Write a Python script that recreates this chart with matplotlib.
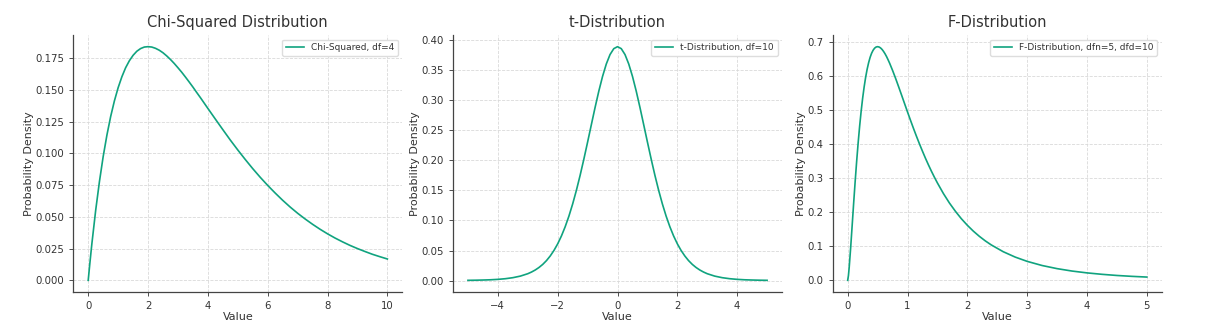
import matplotlib
matplotlib.use("Agg")
import matplotlib.pyplot as plt

# values
chi_x = [0, 0.05, 0.1, 0.125, 0.25, 0.375, 0.5, 0.625, 0.75, 0.875, 1.0, 1.125, 1.25, 1.375,
         1.5, 1.625, 1.75, 1.875, 2.0, 2.125, 2.25, 2.375, 2.5, 2.625, 2.75, 2.875, 3.0,
         3.125, 3.25, 3.375, 3.5, 3.625, 3.75, 4.0, 4.25, 4.5, 4.75, 5.0, 5.25, 5.5, 5.75,
         6.0, 6.25, 6.5, 6.75, 7.0, 7.25, 7.5, 7.75, 8.0, 8.25, 8.5, 8.75, 9.0, 9.25, 9.5,
         9.75, 10.0]
chi_y = [0.0, 0.0122, 0.0238, 0.0294, 0.0552, 0.0777, 0.0974, 0.1143, 0.1289, 0.1412, 0.1516,
         0.1602, 0.1673, 0.1728, 0.1771, 0.1803, 0.1824, 0.1836, 0.1839, 0.1836, 0.1826,
         0.1811, 0.1791, 0.1766, 0.1738, 0.1707, 0.1673, 0.1638, 0.1600, 0.1561, 0.1521,
         0.1479, 0.1438, 0.1353, 0.1269, 0.1186, 0.1104, 0.1026, 0.0951, 0.0879, 0.0811,
         0.0747, 0.0687, 0.0630, 0.0577, 0.0528, 0.0483, 0.0441, 0.0402, 0.0366, 0.0333,
         0.0303, 0.0275, 0.0250, 0.0227, 0.0205, 0.0186, 0.0168]

# t curve is symmetric, read the right half
t_pos_x = [0, 0.125, 0.25, 0.375, 0.5, 0.625, 0.75, 0.875, 1.0, 1.125, 1.25, 1.375, 1.5,
           1.625, 1.75, 1.875, 2.0, 2.125, 2.25, 2.375, 2.5, 2.625, 2.75, 2.875, 3.0, 3.25,
           3.5, 3.75, 4.0, 4.25, 4.5, 4.75, 5.0]
t_pos_y = [0.3891, 0.3858, 0.3760, 0.3603, 0.3397, 0.3152, 0.2880, 0.2593, 0.2304, 0.2021,
           0.1751, 0.1501, 0.1274, 0.1072, 0.0895, 0.0742, 0.0611, 0.0501, 0.0409, 0.0332,
           0.0269, 0.0218, 0.0176, 0.0142, 0.0114, 0.0074, 0.0048, 0.0031, 0.0020, 0.0013,
           0.0009, 0.0006, 0.0004]
t_x = [-v for v in t_pos_x[:0:-1]] + t_pos_x
t_y = t_pos_y[:0:-1] + t_pos_y

f_x = [0, 0.0125, 0.025, 0.05, 0.075, 0.1, 0.125, 0.15, 0.175, 0.2, 0.225, 0.25, 0.275, 0.3,
       0.325, 0.35, 0.375, 0.4, 0.425, 0.45, 0.475, 0.5, 0.525, 0.55, 0.575, 0.6, 0.625,
       0.65, 0.675, 0.7, 0.75, 0.8, 0.85, 0.9, 0.95, 1.0, 1.05, 1.1, 1.15, 1.2, 1.25, 1.3,
       1.35, 1.4, 1.45, 1.5, 1.6, 1.7, 1.8, 1.9, 2.0, 2.1, 2.2, 2.3, 2.4, 2.6, 2.8, 3.0,
       3.25, 3.5, 3.75, 4.0, 4.25, 4.5, 4.75, 5.0]
f_y = [0.0, 0.0138, 0.0373, 0.0963, 0.1616, 0.2274, 0.2908, 0.3501, 0.4046, 0.4538, 0.4974,
       0.5358, 0.5689, 0.5973, 0.6210, 0.6404, 0.6562, 0.6683, 0.6771, 0.6832, 0.6866,
       0.6876, 0.6866, 0.6838, 0.6794, 0.6735, 0.6665, 0.6584, 0.6491, 0.6394, 0.6179,
       0.5948, 0.5704, 0.5456, 0.5205, 0.4955, 0.4710, 0.4470, 0.4238, 0.4014, 0.3800,
       0.3593, 0.3397, 0.3210, 0.3033, 0.2865, 0.2554, 0.2277, 0.2033, 0.1813, 0.1620,
       0.1448, 0.1296, 0.1161, 0.1042, 0.0842, 0.0684, 0.0558, 0.0436, 0.0344, 0.0273,
       0.0219, 0.0177, 0.0143, 0.0117, 0.0096]

titles = ["Chi-Squared Distribution", "t-Distribution", "F-Distribution"]
labels = ["Chi-Squared, df=4", "t-Distribution, df=10", "F-Distribution, dfn=5, dfd=10"]

line_color = "#10a37f"
text_color = "#333333"

fig = plt.figure(figsize=(12.21, 3.27), dpi=100)
lefts = [0.060, 0.371, 0.682]
series = [(chi_x, chi_y), (t_x, t_y), (f_x, f_y)]

for i, (xs, ys) in enumerate(series):
    ax = fig.add_axes([lefts[i], 0.107, 0.2695, 0.786])
    ax.plot(xs, ys, color=line_color, linewidth=1.2, label=labels[i])
    ax.set_title(titles[i], fontsize=10.5, color=text_color)
    ax.set_xlabel("Value", fontsize=8, color=text_color, labelpad=1)
    ax.set_ylabel("Probability Density", fontsize=8, color=text_color, labelpad=1)
    ax.tick_params(labelsize=7.3, colors=text_color, length=3, width=0.6)
    ax.grid(True, linestyle="--", linewidth=0.6, color="#d9d9d9")
    ax.set_axisbelow(True)
    for side in ["top", "right"]:
        ax.spines[side].set_visible(False)
    for side in ["left", "bottom"]:
        ax.spines[side].set_color("#444444")
        ax.spines[side].set_linewidth(0.9)
    leg = ax.legend(loc="upper right", fontsize=6.5, fancybox=True, framealpha=1)
    leg.get_frame().set_edgecolor("#dddddd")
    for t in leg.get_texts():
        t.set_color(text_color)

plt.savefig("out.png", dpi=100)
